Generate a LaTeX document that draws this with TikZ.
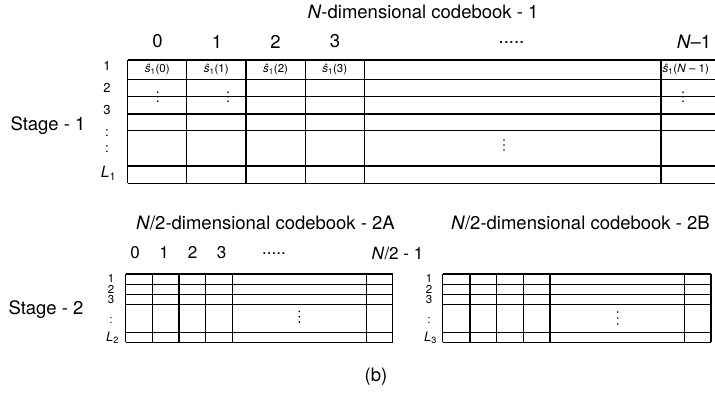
\documentclass[tikz,border=0pt]{standalone}
\usepackage{fontspec}
\setmainfont{TeX Gyre Heros}
\tikzset{
  gridline/.style={line width=1.1pt},
  big/.style={font=\fontsize{18.5}{21}\selectfont, inner sep=0pt},
  headA/.style={font=\fontsize{18.5}{21}\selectfont, inner sep=0pt},
  headB/.style={font=\fontsize{17}{20}\selectfont, inner sep=0pt},
  rowlab/.style={font=\fontsize{13}{15}\selectfont, inner sep=0pt},
  rowlabs/.style={font=\fontsize{11.5}{13}\selectfont, inner sep=0pt},
  cell/.style={font=\fontsize{11.5}{13}\selectfont, inner sep=0pt},
  vdot/.style={fill, circle, inner sep=0pt, minimum size=1.9pt}
}
\newcommand{\myvdots}[4]{% name, x, y, spacing
  \node[vdot] (#1a) at (#2,#3-#4) {};
  \node[vdot] (#1b) at (#2,#3) {};
  \node[vdot] (#1c) at (#2,#3+#4) {};
}
\newcommand{\shat}[1]{\textit{ŝ}\textsubscript{1}(#1)}
\begin{document}
\begin{tikzpicture}[x=1pt,y=-1pt]
\useasboundingbox (0,0) rectangle (715,396);
% ---------------- Stage 1 ----------------
\node[big] (t1) at (423,12) {\textit{N}-dimensional codebook - 1};
\node[big] (st1) at (48,126) {Stage - 1};
\foreach \y in {60,79.3,96.7,114,130.7,166,183.3}
  \draw[gridline] (127.7,\y) -- (715,\y);
\foreach \x in {127.7,186.7,246,305.3,364.3,661}
  \draw[gridline] (\x,60) -- (\x,183.3);
\node[headA] (h0) at (157.5,41.5) {0};
\node[headA] (h1) at (217,41.5) {1};
\node[headA] (h2) at (275.5,41.5) {2};
\node[headA] (h3) at (335,41.5) {3};
\node[headA] (hd) at (511.5,43) {.....};
\node[headA] (hN) at (694,41.5) {\textit{N}–1};
\node[rowlab] (r1) at (107,66) {1};
\node[rowlab] (r2) at (107,87.5) {2};
\node[rowlab] (r3) at (107,110) {3};
\node[rowlab] (rd1) at (107,133) {:};
\node[rowlab] (rd2) at (107,149.5) {:};
\node[font=\fontsize{15.5}{17}\selectfont, inner sep=0pt] (rL) at (108.5,173.5) {\textit{L}\textsubscript{1}};
\node[cell] (c0) at (157.2,70) {\shat{0}};
\node[cell] (c1) at (216.3,70) {\shat{1}};
\node[cell] (c2) at (275.6,70) {\shat{2}};
\node[cell] (c3) at (334.8,70) {\shat{3}};
\node[cell, anchor=west] (cN) at (662.5,70) {\shat{\textit{N} – 1}};
\myvdots{va}{157.7}{96.7}{4.5}
\myvdots{vb}{228}{96.7}{4.5}
\myvdots{vc}{683}{96.7}{4.5}
\myvdots{vd}{504}{145}{5}
% ---------------- Stage 2 ----------------
\node[big] (t2a) at (265.5,222.7) {\textit{N}/2-dimensional codebook - 2A};
\node[big] (t2b) at (580.5,222.7) {\textit{N}/2-dimensional codebook - 2B};
\node[big] (st2) at (46,309.3) {Stage - 2};
\node[headB] (g0) at (135,252.3) {0};
\node[headB] (g1) at (164,252.3) {1};
\node[headB] (g2) at (192.7,252.3) {2};
\node[headB] (g3) at (221.7,252.3) {3};
\node[headB] (gd) at (274,254) {.....};
\node[headB] (gN) at (397.5,253) {\textit{N}/2 - 1};
% 2A grid
\foreach \y in {274,284.7,294.7,304.3,332.7,342.3}
  \draw[gridline] (125.7,\y) -- (392.7,\y);
\foreach \x in {125.7,152.3,179,205.7,232.3,366.7,392.7}
  \draw[gridline] (\x,274) -- (\x,342.3);
% 2B grid
\foreach \y in {274,284.7,294.7,304.3,332.7,342.3}
  \draw[gridline] (442.7,\y) -- (711,\y);
\foreach \x in {442.7,470,496.7,523.3,550,684.3,711}
  \draw[gridline] (\x,274) -- (\x,342.3);
% row labels 2A
\node[rowlabs] (a1) at (111,278.8) {1};
\node[rowlabs] (a2) at (111,289.3) {2};
\node[rowlabs] (a3) at (111,299.6) {3};
\node[rowlabs] (ad) at (111,320.5) {:};
\node[font=\fontsize{13}{15}\selectfont, inner sep=0pt] (aL) at (112.5,338) {\textit{L}\textsubscript{2}};
% row labels 2B
\node[rowlabs] (b1) at (429,278.8) {1};
\node[rowlabs] (b2) at (429,289.3) {2};
\node[rowlabs] (b3) at (429,299.6) {3};
\node[rowlabs] (bd) at (429,320.5) {:};
\node[font=\fontsize{13}{15}\selectfont, inner sep=0pt] (bL) at (430.5,338) {\textit{L}\textsubscript{3}};
\myvdots{ve}{299.3}{316.7}{5.3}
\myvdots{vf}{617.7}{318}{6}
\node[big] (cap) at (376,377) {(b)};
\end{tikzpicture}
\end{document}
